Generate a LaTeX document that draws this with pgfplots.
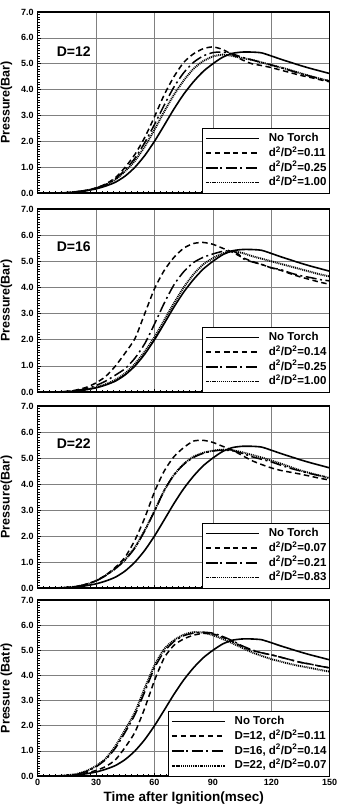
\documentclass[border=0pt]{standalone}
\usepackage{fontspec}
\setmainfont{Liberation Sans}
\usepackage{pgfplots}
\pgfplotsset{compat=1.18}
\pgfplotsset{
  panel/.style={
    scale only axis, width=292pt,
    xmin=0, xmax=150, ymin=0, ymax=7,
    xtick={0,30,60,90,120,150},
    ytick={0,1,2,3,4,5,6,7},
    minor x tick num=9, minor y tick num=9,
    tick align=inside,
    major tick length=3pt, minor tick length=2pt,
    xtick pos=left, ytick pos=left,
    grid=major,
    major grid style={gray, line width=0.6pt},
    axis line style={line width=1.3pt},
    every tick/.style={black, line width=0.6pt},
    /pgf/number format/assume math mode=true,
    yticklabel={\pgfmathprintnumber[fixed,fixed zerofill,precision=1]{\tick}},
    tick label style={font=\fontsize{9}{10}\selectfont\bfseries},
    yticklabel style={xshift=-0.5pt},
    label style={font=\fontsize{12.5}{14}\selectfont\bfseries},
    ylabel style={yshift=2pt},
    legend cell align=left,
    legend style={at={(1,0)}, anchor=south east, draw=black,
      font=\fontsize{11.5}{12.5}\selectfont\bfseries,
      nodes={inner sep=0pt, text height=8.5pt, text depth=2pt},
      row sep=4.2pt, column sep=9pt,
      inner xsep=3pt, inner ysep=5pt, fill=white},
    legend image code/.code={\draw[#1] plot coordinates {(0pt,0pt) (26pt,0pt) (53pt,0pt)};},
  },
  nt/.style={black, line width=1.6pt, smooth, tension=0.4},
  ds/.style={black, line width=1.5pt, dash pattern=on 5.5pt off 3.5pt, smooth, tension=0.4},
  dd/.style={black, line width=1.5pt, dash pattern=on 11pt off 3.5pt on 2pt off 3.5pt, smooth, tension=0.4},
  dt/.style={black, line width=1.9pt, dash pattern=on 1pt off 0.9pt, smooth, tension=0.4},
}
\pgfplotstableread{
x y
0 0
10 0
15 0.01
20 0.04
25 0.09
30 0.16
35 0.27
40 0.42
45 0.66
50 1.0
55 1.45
60 2.0
65 2.62
70 3.25
75 3.82
80 4.3
85 4.7
90 5.0
95 5.25
100 5.4
105 5.45
110 5.45
115 5.42
120 5.3
125 5.17
130 5.05
135 4.93
140 4.82
145 4.72
150 4.62
}\notorch
\begin{document}
\begin{tikzpicture}
\path[use as bounding box] (0,0) rectangle (338pt,807pt);
% ---------- Panel 1: D=12
\begin{axis}[panel, at={(37.7pt,614pt)}, anchor=south west, height=181pt,
  xticklabels={}, ylabel={Pressure(Bar)}]
\addplot[nt] table {\notorch};
\addlegendentry{No Torch}
\addplot[ds] coordinates {(0,0) (10,0) (15,0.01) (20,0.05) (25,0.1) (30,0.2) (35,0.35) (40,0.6) (45,1.0) (50,1.5) (55,2.15) (60,2.95) (65,3.8) (70,4.5) (75,5.05) (80,5.38) (85,5.58) (90,5.65) (95,5.55) (100,5.35) (105,5.15) (110,5.0) (115,4.93) (120,4.85) (125,4.75) (130,4.65) (135,4.55) (140,4.47) (145,4.38) (150,4.3)};
\addlegendentry{d\textsuperscript{2}/D\textsuperscript{2}=0.11}
\addplot[dd] coordinates {(0,0) (10,0) (15,0.01) (20,0.05) (25,0.1) (30,0.19) (35,0.33) (40,0.55) (45,0.9) (50,1.35) (55,1.95) (60,2.65) (65,3.4) (70,4.1) (75,4.65) (80,5.05) (85,5.3) (90,5.43) (95,5.45) (100,5.38) (105,5.25) (110,5.15) (115,5.05) (120,4.95) (125,4.85) (130,4.73) (135,4.62) (140,4.52) (145,4.42) (150,4.33)};
\addlegendentry{d\textsuperscript{2}/D\textsuperscript{2}=0.25}
\addplot[dt] coordinates {(0,0) (10,0) (15,0.01) (20,0.05) (25,0.1) (30,0.19) (35,0.32) (40,0.52) (45,0.85) (50,1.25) (55,1.8) (60,2.45) (65,3.15) (70,3.8) (75,4.35) (80,4.8) (85,5.1) (90,5.28) (95,5.35) (100,5.3) (105,5.22) (110,5.15) (115,5.05) (120,4.95) (125,4.85) (130,4.75) (135,4.63) (140,4.52) (145,4.42) (150,4.33)};
\addlegendentry{d\textsuperscript{2}/D\textsuperscript{2}=1.00}
\node[anchor=west, font=\fontsize{14}{16}\selectfont\bfseries] at (axis cs:8,5.45) {D=12};
\end{axis}
% ---------- Panel 2: D=16
\begin{axis}[panel, at={(37.7pt,415pt)}, anchor=south west, height=183pt,
  xticklabels={}, ylabel={Pressure(Bar)}]
\addplot[nt] table {\notorch};
\addlegendentry{No Torch}
\addplot[ds] coordinates {(0,0) (10,0) (15,0.02) (20,0.08) (25,0.18) (30,0.35) (35,0.6) (40,1.0) (45,1.5) (50,2.05) (55,3.0) (60,3.95) (65,4.65) (70,5.15) (75,5.5) (80,5.68) (85,5.72) (90,5.65) (95,5.5) (100,5.35) (105,5.15) (110,5.0) (115,4.88) (120,4.75) (125,4.65) (130,4.52) (135,4.4) (140,4.3) (145,4.2) (150,4.12)};
\addlegendentry{d\textsuperscript{2}/D\textsuperscript{2}=0.14}
\addplot[dd] coordinates {(0,0) (10,0) (15,0.02) (20,0.06) (25,0.13) (30,0.25) (35,0.42) (40,0.65) (45,0.9) (50,1.3) (55,1.85) (60,2.6) (65,3.4) (70,4.1) (75,4.6) (80,4.95) (85,5.15) (90,5.28) (95,5.38) (100,5.4) (103,5.28) (106,5.08) (110,4.98) (115,4.88) (120,4.75) (125,4.68) (130,4.55) (135,4.45) (140,4.38) (145,4.3) (150,4.25)};
\addlegendentry{d\textsuperscript{2}/D\textsuperscript{2}=0.25}
\addplot[dt] coordinates {(0,0) (10,0) (15,0.01) (20,0.04) (25,0.1) (30,0.18) (35,0.3) (40,0.47) (45,0.72) (50,1.08) (55,1.55) (60,2.1) (65,2.75) (70,3.4) (75,4.0) (80,4.5) (85,4.88) (90,5.12) (95,5.3) (100,5.38) (105,5.32) (110,5.2) (115,5.1) (120,5.0) (125,4.9) (130,4.8) (135,4.7) (140,4.6) (145,4.5) (150,4.42)};
\addlegendentry{d\textsuperscript{2}/D\textsuperscript{2}=1.00}
\node[anchor=west, font=\fontsize{14}{16}\selectfont\bfseries] at (axis cs:8,5.55) {D=16};
\end{axis}
% ---------- Panel 3: D=22
\begin{axis}[panel, at={(37.7pt,219pt)}, anchor=south west, height=182pt,
  xticklabels={}, ylabel={Pressure(Bar)}]
\addplot[nt] table {\notorch};
\addlegendentry{No Torch}
\addplot[ds] coordinates {(0,0) (10,0) (15,0.02) (20,0.06) (25,0.15) (30,0.28) (35,0.5) (40,0.8) (45,1.2) (50,1.85) (55,2.7) (60,3.7) (65,4.5) (70,5.05) (75,5.4) (80,5.65) (85,5.68) (90,5.6) (95,5.45) (100,5.3) (105,5.1) (110,4.9) (115,4.75) (120,4.62) (125,4.52) (130,4.45) (135,4.38) (140,4.3) (145,4.22) (150,4.15)};
\addlegendentry{d\textsuperscript{2}/D\textsuperscript{2}=0.07}
\addplot[dd] coordinates {(0,0) (10,0) (15,0.02) (20,0.06) (25,0.14) (30,0.27) (35,0.48) (40,0.75) (45,1.08) (50,1.55) (55,2.2) (60,2.95) (65,3.75) (70,4.35) (75,4.75) (80,5.02) (85,5.18) (90,5.27) (95,5.3) (100,5.28) (105,5.18) (110,5.05) (115,4.95) (120,4.85) (125,4.72) (130,4.6) (135,4.5) (140,4.4) (145,4.32) (150,4.25)};
\addlegendentry{d\textsuperscript{2}/D\textsuperscript{2}=0.21}
\addplot[dt] coordinates {(0,0) (10,0) (15,0.02) (20,0.06) (25,0.14) (30,0.28) (35,0.49) (40,0.76) (45,1.1) (50,1.57) (55,2.22) (60,2.97) (65,3.75) (70,4.35) (75,4.77) (80,5.05) (85,5.2) (90,5.28) (95,5.32) (100,5.3) (105,5.22) (110,5.12) (115,5.02) (120,4.9) (125,4.78) (130,4.65) (135,4.52) (140,4.42) (145,4.32) (150,4.22)};
\addlegendentry{d\textsuperscript{2}/D\textsuperscript{2}=0.83}
\node[anchor=west, font=\fontsize{14}{16}\selectfont\bfseries] at (axis cs:8,5.55) {D=22};
\end{axis}
% ---------- Panel 4: comparison
\begin{axis}[panel, at={(37.7pt,31pt)}, anchor=south west, height=176pt,
  ylabel={Pressure (Batr)}, xlabel={Time after Ignition(msec)},
  xlabel style={yshift=1pt, font=\fontsize{13.5}{15}\selectfont\bfseries}]
\addplot[nt] table {\notorch};
\addlegendentry{No Torch}
\addplot[ds] coordinates {(0,0) (10,0) (15,0.01) (20,0.05) (25,0.12) (30,0.22) (35,0.38) (40,0.65) (45,1.15) (50,1.75) (55,2.7) (60,3.8) (65,4.7) (70,5.2) (75,5.45) (80,5.6) (85,5.67) (90,5.65) (95,5.52) (100,5.35) (105,5.15) (110,5.0) (115,4.9) (120,4.82) (125,4.72) (130,4.62) (135,4.52) (140,4.45) (145,4.37) (150,4.3)};
\addlegendentry{D=12, d\textsuperscript{2}/D\textsuperscript{2}=0.11}
\addplot[dd] coordinates {(0,0) (10,0) (15,0.02) (20,0.07) (25,0.18) (30,0.37) (35,0.66) (40,1.12) (45,1.75) (50,2.45) (55,3.35) (60,4.3) (65,4.95) (70,5.35) (75,5.58) (80,5.68) (85,5.72) (90,5.68) (95,5.55) (100,5.38) (105,5.18) (110,5.02) (115,4.9) (120,4.82) (125,4.72) (130,4.62) (135,4.52) (140,4.45) (145,4.37) (150,4.3)};
\addlegendentry{D=16, d\textsuperscript{2}/D\textsuperscript{2}=0.14}
\addplot[dt] coordinates {(0,0) (10,0) (15,0.03) (20,0.08) (25,0.2) (30,0.4) (35,0.7) (40,1.2) (45,1.85) (50,2.55) (55,3.5) (60,4.4) (65,5.05) (70,5.4) (75,5.62) (80,5.72) (85,5.7) (90,5.6) (95,5.45) (100,5.28) (105,5.1) (110,4.92) (115,4.78) (120,4.65) (125,4.55) (130,4.45) (135,4.37) (140,4.3) (145,4.22) (150,4.15)};
\addlegendentry{D=22, d\textsuperscript{2}/D\textsuperscript{2}=0.07}
\end{axis}
\end{tikzpicture}
\end{document}
